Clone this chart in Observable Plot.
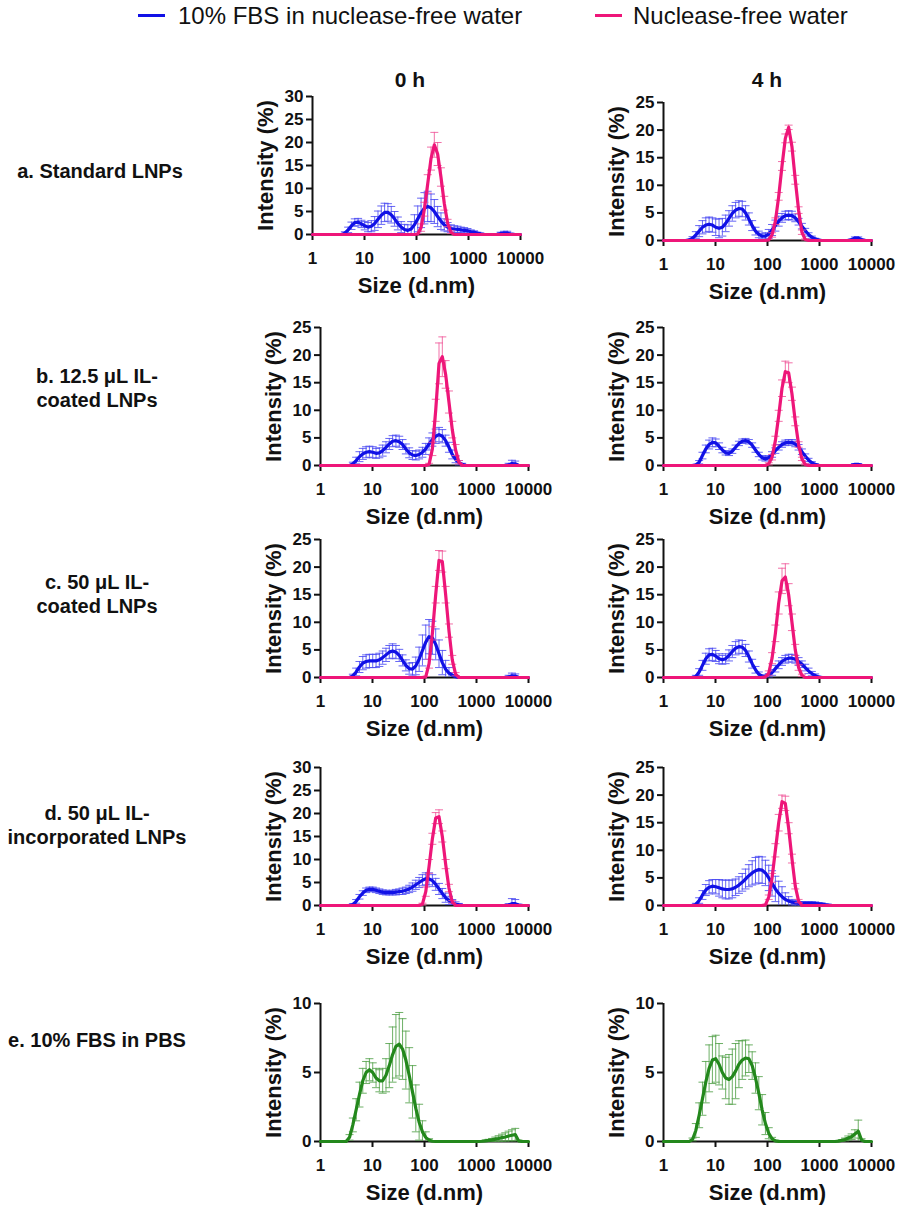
<!DOCTYPE html>
<html>
<head>
<meta charset="utf-8">
<script src="https://cdn.jsdelivr.net/npm/d3@7"></script>
<script src="https://cdn.jsdelivr.net/npm/@observablehq/plot@0.6"></script>
<style>
  body { margin: 0; background: #fff; font-family: "Liberation Sans", Arial, Helvetica, sans-serif; color: #111; }
  #root { position: relative; width: 901px; height: 1206px; overflow: hidden; background: #fff; }
  .abs { position: absolute; }
  .leg { position: absolute; font-size: 24px; line-height: 24px; white-space: nowrap; color: #111; }
  .swatch { position: absolute; height: 3px; width: 27px; }
  .colhead { position: absolute; font-size: 21px; font-weight: bold; line-height: 21px; transform: translateX(-50%); white-space: nowrap; }
  .rowlab { position: absolute; font-size: 20px; font-weight: bold; line-height: 24px; text-align: center; transform: translate(-50%, -50%); white-space: nowrap; }
  svg { overflow: visible; }
  svg [aria-label$="tick"] { stroke-width: 2px; }
  svg .tick line { stroke-width: 2px; }
</style>
</head>
<body>
<div id="root"></div>
<script>
// ---------- DATA ----------
// Size bins (d.nm), Zetasizer-style log grid
const sizes = [1, 1.117, 1.294, 1.499, 1.736, 2.010, 2.328, 2.696, 3.122, 3.615, 4.187, 4.849, 5.615, 6.503, 7.531, 8.721,
  10.10, 11.70, 13.54, 15.69, 18.17, 21.04, 24.36, 28.21, 32.67, 37.84, 43.82, 50.75, 58.77, 68.06, 78.82, 91.28,
  105.7, 122.4, 141.8, 164.2, 190.1, 220.2, 255.0, 295.3, 342.0, 396.1, 458.7, 531.2, 615.1, 712.4, 825.0, 955.4,
  1106, 1281, 1484, 1718, 1990, 2305, 2669, 3091, 3580, 4145, 4801, 5560, 6439, 7456, 8635, 10000];

const fbsFrom = 3.122;   // first bin of the FBS / PBS series below
const waterFrom = 91.28; // first bin of the nuclease-free water series below

const xTicks = [1, 10, 100, 1000, 10000];
const yTicks30 = [0, 5, 10, 15, 20, 25, 30];
const yTicks25 = [0, 5, 10, 15, 20, 25];
const yTicks10 = [0, 5, 10];

const seriesNames = ["10% FBS in nuclease-free water", "Nuclease-free water"];
const rowLabels = [["a. Standard LNPs"], ["b. 12.5 μL IL-", "coated LNPs"], ["c. 50 μL IL-", "coated LNPs"], ["d. 50 μL IL-", "incorporated LNPs"], ["e. 10% FBS in PBS"]];
const colLabels = ["0 h", "4 h"];

// a. Standard LNPs
const fbsA0 = [0,0, 0.3,1.0,1.9,2.6,2.7,2.3,1.9,1.6,1.8,2.4, 3.3,4.2,4.8,4.8,4.3,3.4,2.4,1.6,1.1,0.9, 1.2,2.1,3.4,4.7,5.7,6.1,5.8,5.0,3.9,2.9, 2.1,1.6,1.3,1.2,1.1,1.0,0.9,0.8,0.6,0.5, 0.3,0.15,0.05,0,0,0,0.05,0.2,0.3,0.3,0.1];
const fbsA0sd = [0,0, 0.3,0.6,0.8,0.8,0.8,0.8,0.9,1.0,1.2,1.5, 1.8,2.0,2.0,1.9,1.8,1.6,1.4,1.2,1.1,1.2, 1.6,2.2,2.8,3.2,3.4,3.3,3.0,2.6,2.2,1.8, 1.3,1.0,0.8,0.7,0.7,0.6,0.6,0.5,0.4,0.3, 0.2,0.1,0.05,0,0,0,0.1,0.3,0.4,0.4,0.2];
const waterA0 = [0, 0.1,1.5,5.5,11.0,16.5,19.5,17.5,12.5,6.8,2.5,0.5];
const waterA0sd = [0, 0.1,0.8,1.5,2.0,2.5,2.7,2.5,2.0,1.5,0.8,0.3];
const fbsA4 = [0.1,0.4,1.0,1.7,2.4,2.8,2.95,2.8,2.4,2.2, 2.4,3.1,4.0,4.9,5.5,5.8,5.7,5.0,3.9,2.7, 1.7,1.1,0.8,0.8,1.2,1.9,2.7,3.5,4.1,4.5, 4.6,4.5,4.1,3.4,2.6,1.8,1.1,0.6,0.3,0.1, 0,0,0,0,0,0,0,0,0, 0.15,0.45,0.45,0.15];
const fbsA4sd = [0.1,0.3,0.6,1.0,1.2,1.3,1.3,1.3,1.5,1.7, 1.6,1.5,1.4,1.4,1.4,1.4,1.4,1.3,1.1,0.9, 0.7,0.6,0.5,0.6,0.8,1.0,1.0,0.9,0.8,0.8, 0.8,0.8,0.7,0.6,0.5,0.4,0.3,0.2,0.1,0.05, 0,0,0,0,0,0,0,0,0, 0.1,0.2,0.2,0.1];
const waterA4 = [0, 0.1,1.0,3.5,8.0,13.5,18.5,20.5,17.0,11.0,5.5,1.5,0.2];
const waterA4sd = [0, 0.1,0.4,0.6,0.7,0.8,0.8,0.4,0.8,0.8,0.6,0.4,0.1];

// b. 12.5 uL IL-coated LNPs
const fbsB0 = [0,0, 0.3,0.9,1.6,2.1,2.4,2.5,2.4,2.2,2.3,2.7, 3.3,3.9,4.4,4.5,4.3,3.8,3.0,2.3,1.9,1.8, 2.0,2.4,3.0,3.9,4.7,5.3,5.6,5.3,4.5,3.3, 2.0,1.1,0.5,0.2,0.05, 0,0,0,0,0,0,0,0,0,0,0,0, 0.1,0.35,0.3,0.05];
const fbsB0sd = [0,0, 0.3,0.6,0.9,1.0,1.0,1.0,1.0,0.9,0.9,1.0, 1.0,1.0,1.0,1.0,1.0,0.9,0.9,0.9,0.8,0.8, 0.8,0.9,1.0,1.1,1.2,1.3,1.3,1.2,1.0,0.9, 0.8,0.6,0.4,0.2,0.05, 0,0,0,0,0,0,0,0,0,0,0,0, 0.3,0.6,0.5,0.1];
const waterB0 = [0,0, 0.2,3.0,10.0,18.5,19.7,16.5,11.5,6.5,2.8,0.6];
const waterB0sd = [0,0, 0.2,1.2,2.0,3.7,3.6,2.5,2.0,1.5,1.0,0.3];
const fbsB4 = [0,0, 0.1,0.6,1.8,3.0,3.8,4.2,4.1,3.5,2.8,2.3, 2.2,2.6,3.3,4.0,4.4,4.5,4.3,3.7,2.8,2.0, 1.4,1.2,1.4,2.0,2.7,3.3,3.8,4.1,4.2,4.2, 3.9,3.3,2.5,1.7,1.0,0.5,0.2,0.05, 0,0,0,0,0,0,0,0,0, 0.05,0.2,0.2,0.05];
const fbsB4sd = [0,0, 0.1,0.3,0.6,0.7,0.8,0.8,0.7,0.6,0.5,0.4, 0.4,0.4,0.4,0.4,0.4,0.4,0.4,0.4,0.4,0.4, 0.4,0.4,0.4,0.5,0.5,0.5,0.5,0.5,0.5,0.5, 0.5,0.5,0.5,0.4,0.3,0.2,0.1,0.05, 0,0,0,0,0,0,0,0,0, 0.05,0.15,0.15,0.05];
const waterB4 = [0, 0.3,1.5,4.5,9.0,14.0,17.0,16.8,13.0,8.0,3.8,1.2,0.2];
const waterB4sd = [0, 0.2,0.5,0.8,1.0,1.5,1.9,1.8,1.2,0.8,0.5,0.3,0.1];

// c. 50 uL IL-coated LNPs
const fbsC0 = [0,0, 0.3,1.0,1.9,2.6,2.9,3.0,3.0,3.0,3.2,3.6, 4.1,4.6,4.8,4.6,4.0,3.1,2.2,1.6,1.5,2.1, 3.3,4.9,6.4,7.4,7.2,6.0,4.3,2.7,1.5,0.8, 0.4,0.15, 0,0,0,0,0,0,0,0,0,0,0,0,0,0,0, 0.1,0.3,0.25,0.05];
const fbsC0sd = [0,0, 0.3,0.7,1.0,1.2,1.2,1.2,1.2,1.2,1.2,1.2, 1.2,1.2,1.3,1.2,1.1,1.0,1.0,1.0,1.2,1.6, 2.2,2.8,3.1,3.1,3.0,2.8,2.5,2.2,1.6,1.0, 0.5,0.2, 0,0,0,0,0,0,0,0,0,0,0,0,0,0,0, 0.3,0.5,0.4,0.1];
const waterC0 = [0, 0.1,2.5,8.0,15.0,21.2,21.0,15.0,8.5,3.2,0.6];
const waterC0sd = [0, 0.1,0.8,1.2,1.5,1.8,1.9,1.5,1.2,0.8,0.3];
const fbsC4 = [0,0, 0.2,1.0,2.2,3.4,4.1,4.2,3.9,3.4,3.2,3.4, 4.0,4.7,5.3,5.6,5.5,4.9,3.8,2.5,1.4,0.6, 0.25,0.2,0.4,0.9,1.6,2.3,2.9,3.3,3.5,3.5, 3.3,2.9,2.4,1.8,1.2,0.7,0.35,0.1];
const fbsC4sd = [0,0, 0.2,0.6,0.9,1.0,1.1,1.1,1.0,0.9,0.8,0.9, 1.0,1.1,1.2,1.2,1.2,1.1,1.0,0.8,0.6,0.4, 0.2,0.2,0.3,0.5,0.6,0.7,0.7,0.7,0.7,0.7, 0.7,0.7,0.6,0.6,0.5,0.4,0.3,0.1];
const waterC4 = [0.1,0.8,3.5,8.0,13.5,17.5,18.2,15.0,10.0,5.0,1.8,0.4];
const waterC4sd = [0.1,0.4,1.0,1.5,2.0,2.3,2.4,2.0,1.5,1.0,0.5,0.2];

// d. 50 uL IL-incorporated LNPs
const fbsD0 = [0,0, 0.2,0.9,1.9,2.7,3.3,3.5,3.5,3.3,3.1,2.9, 2.8,2.8,2.8,2.9,3.0,3.1,3.3,3.6,4.0,4.5, 5.0,5.5,5.8,5.8,5.4,4.6,3.6,2.6,1.7,1.1, 0.6,0.3,0.15,0.05, 0,0,0,0,0,0,0,0,0,0,0,0,0, 0.1,0.4,0.4,0.1];
const fbsD0sd = [0,0, 0.2,0.4,0.5,0.5,0.5,0.5,0.5,0.5,0.5,0.5, 0.5,0.5,0.5,0.6,0.6,0.7,0.7,0.8,0.9,1.0, 1.1,1.2,1.3,1.3,1.3,1.3,1.2,1.1,1.0,0.9, 0.7,0.5,0.3,0.1, 0,0,0,0,0,0,0,0,0,0,0,0,0, 0.3,1.1,0.9,0.2];
const waterD0 = [0.3,3.0,8.5,14.5,19.0,19.3,15.0,9.0,3.8,0.8];
const waterD0sd = [0.2,1.0,1.5,1.2,1.2,1.5,1.2,1.0,0.8,0.3];
const fbsD4 = [0,0, 0.2,0.9,1.9,2.8,3.3,3.5,3.4,3.2,3.0,2.9, 2.9,3.0,3.3,3.7,4.2,4.8,5.4,5.9,6.3,6.5, 6.4,5.9,5.0,4.0,3.0,2.2,1.6,1.1,0.8,0.6, 0.5,0.4,0.4,0.4,0.4,0.4,0.35,0.3,0.25,0.15,0.08,0.02];
const fbsD4sd = [0,0, 0.2,0.5,0.8,1.0,1.2,1.2,1.3,1.5,1.6,1.7, 1.7,1.6,1.5,1.5,1.6,1.8,2.0,2.2,2.4,2.4, 2.4,2.3,2.3,2.3,2.3,2.2,1.8,1.2,0.8,0.5, 0.4,0.3,0.3,0.3,0.3,0.3,0.3,0.2,0.2,0.1,0.05,0.02];
const waterD4 = [0.1,1.5,5.0,10.0,15.0,18.8,18.5,14.0,8.5,3.5,0.8];
const waterD4sd = [0.1,0.4,0.8,1.2,1.5,1.2,1.3,1.0,0.8,0.5,0.3];

// e. 10% FBS in PBS
const pbsE0 = [0, 0.3,1.2,2.3,3.4,4.4,5.0,5.2,5.0,4.6,4.4, 4.4,4.8,5.5,6.3,6.9,7.05,6.7,5.9,4.8,3.6, 2.4,1.4,0.7,0.3,0.1,0.02, 0,0,0,0,0,0,0,0,0,0,0,0,0,0, 0.02,0.05,0.08,0.12,0.17,0.22,0.28,0.33,0.4,0.45,0.5,0.05];
const pbsE0sd = [0, 0.2,0.5,0.8,0.9,0.9,0.8,0.8,0.7,0.7,0.8, 0.9,1.2,1.6,2.0,2.3,2.3,2.2,2.1,2.0,1.9, 1.7,1.3,0.8,0.4,0.1,0.02, 0,0,0,0,0,0,0,0,0,0,0,0,0,0, 0.02,0.05,0.08,0.1,0.15,0.2,0.25,0.3,0.35,0.4,0.45,0.05];
const pbsE4 = [0, 0.15,0.8,1.9,3.1,4.3,5.3,5.9,6.0,5.6,5.0, 4.6,4.5,4.7,5.1,5.6,5.9,6.05,6.0,5.5,4.6, 3.5,2.3,1.3,0.6,0.2,0.05, 0,0,0,0,0,0,0,0,0,0,0,0,0,0,0,0,0,0, 0.03,0.08,0.15,0.25,0.35,0.55,0.75,0.1];
const pbsE4sd = [0, 0.1,0.5,0.9,1.2,1.5,1.7,1.7,1.7,1.5,1.2, 1.5,1.8,2.0,2.0,1.7,1.4,1.3,1.0,1.0,1.1, 1.2,1.1,0.8,0.4,0.1,0.05, 0,0,0,0,0,0,0,0,0,0,0,0,0,0,0,0,0,0, 0.03,0.05,0.1,0.15,0.2,0.3,0.8,0.1];

// ---------- STYLE ----------
const FONT = '"Liberation Sans", Arial, Helvetica, sans-serif';
const BLUE = "#1111e6", BLUE_ERR = "#4b4bf2";
const PINK = "#ee1679", PINK_ERR = "#f0589a";
const GREEN = "#23881c", GREEN_ERR = "#55a24b";

function build(values, sds, from) {
  const i0 = sizes.indexOf(from);
  return sizes.map((x, i) => {
    const k = i - i0;
    const y = (k >= 0 && k < values.length) ? values[k] : 0;
    const sd = (k >= 0 && k < sds.length) ? sds[k] : 0;
    return {x, y, sd};
  });
}

const capSymbol = {
  draw(ctx, size) {
    const w = Math.sqrt(size / Math.PI);
    ctx.moveTo(-w, 0);
    ctx.lineTo(w, 0);
  }
};

const root = document.getElementById("root");

function seriesMarks(data, color, errColor) {
  const err = data.filter(d => d.y > 0 && d.sd > 0).map(d => ({x: d.x, y: d.y, hi: d.y + d.sd, lo: Math.max(0, d.y - d.sd), loCap: d.y - d.sd > 0}));
  return [
    Plot.ruleX(err, {x: "x", y1: "lo", y2: "hi", stroke: errColor, strokeWidth: 1, strokeOpacity: 0.85}),
    Plot.dot(err, {x: "x", y: "hi", symbol: capSymbol, r: 4, fill: "none", stroke: errColor, strokeWidth: 1, strokeOpacity: 0.85}),
    Plot.dot(err.filter(d => d.loCap), {x: "x", y: "lo", symbol: capSymbol, r: 4, fill: "none", stroke: errColor, strokeWidth: 1, strokeOpacity: 0.85}),
    Plot.line(data, {x: "x", y: "y", stroke: color, strokeWidth: 3.2, strokeLinejoin: "round", strokeLinecap: "round"})
  ];
}

function panel(left, top, ymax, yticks, series) {
  const W = 208, H = 138, mL = 66, mR = 32, mT = 8, mB = 66;
  const marks = [
    Plot.ruleY([0], {stroke: "#111", strokeWidth: 2}),
    Plot.ruleX([1], {stroke: "#111", strokeWidth: 2}),
    Plot.text(["Size (d.nm)"], {frameAnchor: "bottom", lineAnchor: "bottom", textAnchor: "middle", dy: 58, fontSize: 22, fontWeight: "bold", fill: "#111"}),
    Plot.text(["Intensity (%)"], {frameAnchor: "left", textAnchor: "middle", lineAnchor: "middle", rotate: -90, dx: -47, fontSize: 22, fontWeight: "bold", fill: "#111"})
  ];
  for (const s of series) marks.push(...seriesMarks(s.data, s.color, s.err));
  const svg = Plot.plot({
    width: mL + W + mR, height: mT + H + mB,
    marginLeft: mL, marginRight: mR, marginTop: mT, marginBottom: mB,
    x: {type: "log", domain: [1, 10000], ticks: xTicks, tickFormat: d => String(d), tickSize: 6, tickPadding: 11, label: null},
    y: {domain: [0, ymax], ticks: yticks, tickSize: 6, tickPadding: 3, label: null},
    style: {fontFamily: FONT, fontSize: "17px", fontWeight: "bold", color: "#111", background: "transparent", overflow: "visible"},
    marks
  });
  svg.style.position = "absolute";
  svg.style.left = (left - mL) + "px";
  svg.style.top = (top - mT) + "px";
  root.appendChild(svg);
}

const fbs = (v, s) => ({data: build(v, s, fbsFrom), color: BLUE, err: BLUE_ERR});
const water = (v, s) => ({data: build(v, s, waterFrom), color: PINK, err: PINK_ERR});
const pbs = (v, s) => ({data: build(v, s, fbsFrom), color: GREEN, err: GREEN_ERR});

panel(312, 96, 30, yTicks30, [fbs(fbsA0, fbsA0sd), water(waterA0, waterA0sd)]);
panel(663, 102, 25, yTicks25, [fbs(fbsA4, fbsA4sd), water(waterA4, waterA4sd)]);
panel(320, 327, 25, yTicks25, [fbs(fbsB0, fbsB0sd), water(waterB0, waterB0sd)]);
panel(663, 327, 25, yTicks25, [fbs(fbsB4, fbsB4sd), water(waterB4, waterB4sd)]);
panel(320, 539, 25, yTicks25, [fbs(fbsC0, fbsC0sd), water(waterC0, waterC0sd)]);
panel(663, 539, 25, yTicks25, [fbs(fbsC4, fbsC4sd), water(waterC4, waterC4sd)]);
panel(320, 767, 30, yTicks30, [fbs(fbsD0, fbsD0sd), water(waterD0, waterD0sd)]);
panel(663, 767, 25, yTicks25, [fbs(fbsD4, fbsD4sd), water(waterD4, waterD4sd)]);
panel(320, 1003, 10, yTicks10, [pbs(pbsE0, pbsE0sd)]);
panel(663, 1003, 10, yTicks10, [pbs(pbsE4, pbsE4sd)]);

// ---------- LEGEND & LABELS ----------
function addDiv(cls, css, html) {
  const d = document.createElement("div");
  d.className = cls;
  Object.assign(d.style, css);
  d.innerHTML = html;
  root.appendChild(d);
  return d;
}
addDiv("swatch", {left: "138px", top: "14px", background: BLUE}, "");
addDiv("leg", {left: "178px", top: "4px"}, seriesNames[0]);
addDiv("swatch", {left: "595px", top: "14px", background: PINK}, "");
addDiv("leg", {left: "633px", top: "4px"}, seriesNames[1]);

addDiv("colhead", {left: "410px", top: "69px"}, colLabels[0]);
addDiv("colhead", {left: "767px", top: "69px"}, colLabels[1]);

const rowCenters = [[100, 171], [97, 388], [97, 594], [97, 825], [97, 1040]];
rowLabels.forEach((lines, i) => {
  addDiv("rowlab", {left: rowCenters[i][0] + "px", top: rowCenters[i][1] + "px"}, lines.join("<br>"));
});
</script>
</body>
</html>
